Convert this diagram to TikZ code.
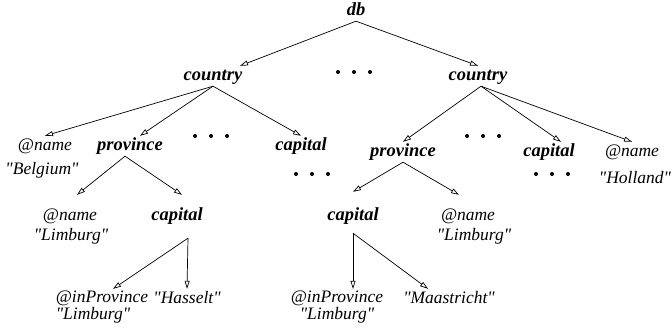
\documentclass[tikz,border=0pt]{standalone}
\usepackage{fontspec}
\setmainfont{Liberation Serif}[Ligatures=TeXOff]
\usetikzlibrary{arrows.meta}
\tikzset{
  elem/.style={font=\fontsize{18.5}{20}\selectfont\bfseries\itshape,text height=12pt,text depth=4pt,inner sep=2pt},
  attr/.style={font=\fontsize{17.5}{20}\selectfont\itshape,text height=12pt,text depth=4pt,inner sep=2pt},
  pair/.style={font=\fontsize{17.5}{15}\selectfont\itshape,inner sep=2pt},
  more/.style={minimum width=38pt,minimum height=5pt,inner sep=0pt,
    path picture={\foreach \i in {-1,0,1}\fill([xshift=\i*16pt]path picture bounding box.center)circle(2pt);}},
  edge/.style={->,line width=0.7pt,>={Triangle[open,length=8pt,width=5pt]}}
}
\newcommand{\qt}[1]{"#1"}
\begin{document}
\begin{tikzpicture}[x=1pt,y=-1pt]
                \useasboundingbox(0,0)rectangle(672,332);
                \node[elem](db)at(356,11){db};
                \node[elem](ctryA)at(213,76){country};
                \node[elem](ctryB)at(478,76){country};
                \node[more](dotsTop)at(354,72){};
                \node[attr](nameA)at(45,146){@name};
                \node[elem](provA)at(130,146){province};
                \node[more](dotsA)at(211,136){};
                \node[elem](capA)at(301,146){capital};
                \node[attr](valA)at(42,170){\qt{Belgium}};
                \node[more](dotsA2)at(312,174){};
                \node[elem](provB)at(403,152){province};
                \node[more](dotsB)at(483,136){};
                \node[elem](capB)at(549,152){capital};
                \node[attr](nameB)at(632,152){@name};
                \node[attr](valB)at(635,179){\qt{Holland}};
                \node[more](dotsB2)at(552,174){};
                \node[attr](pnameA)at(70,216){@name};
                \node[elem](pcapA)at(177,216){capital};
                \node[attr](pvalA)at(71,236){\qt{Limburg}};
                \node[pair,align=left](inprovA)at(102,307){@inProvince\\\qt{Limburg}};
                \node[attr](cityA)at(187,299){\qt{Hasselt}};
                \node[elem](pcapB)at(353,216){capital};
                \node[attr](pnameB)at(468,216){@name};
                \node[attr](pvalB)at(474,236){\qt{Limburg}};
                \node[pair,align=center](inprovB)at(337,307){@inProvince\\\qt{Limburg}};
                \node[attr](cityB)at(449,299){\qt{Maastricht}};
                \draw[edge](db.south)--([xshift=27pt]ctryA.north);
                \draw[edge](db.south)--(ctryB.north);
                \draw[edge](ctryA.south)--(nameA.north);
                \draw[edge](ctryA.south)--([xshift=10pt]provA.north);
                \draw[edge](ctryA.south)--(capA.north);
                \draw[edge]([xshift=3pt]ctryB.south)--(provB.north);
                \draw[edge]([xshift=3pt]ctryB.south)--([xshift=12pt]capB.north);
                \draw[edge]([xshift=3pt]ctryB.south)--(nameB.north);
                \draw[edge]([xshift=-5pt]provA.south)--([shift={(7pt,11pt)}]pnameA.north);
                \draw[edge]([xshift=-5pt]provA.south)--([shift={(5pt,11pt)}]pcapA.north);
                \draw[edge]([shift={(11pt,-12pt)}]pcapA.south)--([xshift=11pt]inprovA.north);
                \draw[edge]([shift={(11pt,-12pt)}]pcapA.south)--(cityA.north);
                \draw[edge](provB.south)--([yshift=14pt]pcapB.north);
                \draw[edge](provB.south)--([shift={(-9pt,11pt)}]pnameB.north);
                \draw[edge]([yshift=-7pt]pcapB.south)--([xshift=16pt]inprovB.north);
                \draw[edge]([yshift=-7pt]pcapB.south)--([xshift=-21pt]cityB.north);
            \end{tikzpicture}
\end{document}
